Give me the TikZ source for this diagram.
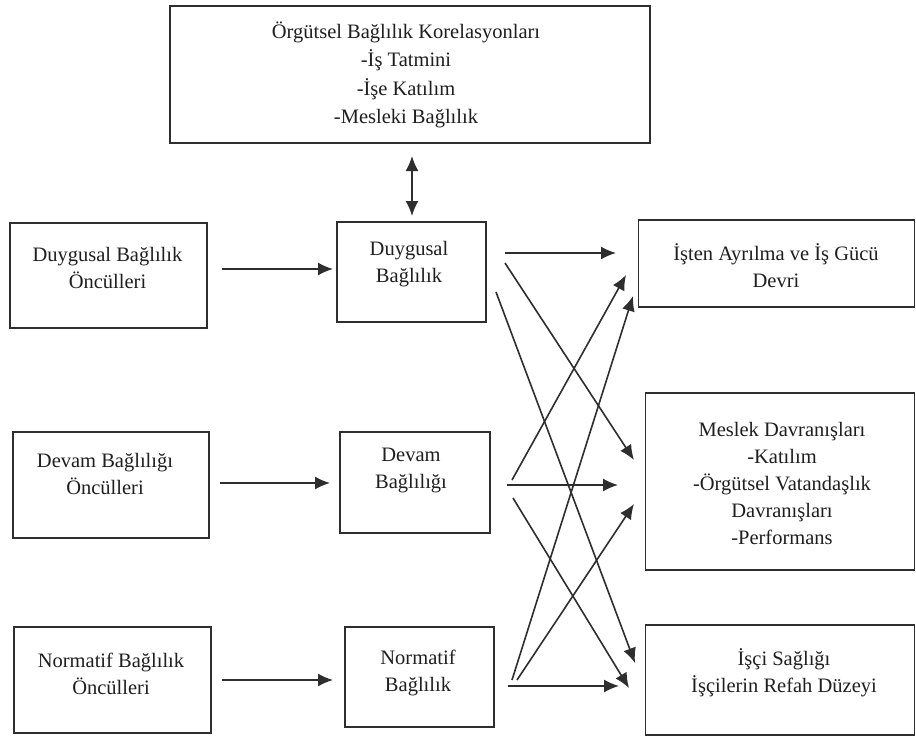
\documentclass[tikz,border=0pt]{standalone}
\usepackage{fontspec}
\setmainfont{Liberation Serif}
\usetikzlibrary{arrows.meta}
\definecolor{ink}{HTML}{1F1F1F}
\definecolor{edge}{HTML}{2E2E2E}
\tikzset{
  box/.style={draw=edge, line width=1.9pt, inner sep=0pt, fill=white},
  txt/.style={align=center, inner sep=0pt, text=ink, font=\fontsize{20.5}{27}\selectfont},
  toptxt/.style={align=center, inner sep=0pt, text=ink, font=\fontsize{20.5}{28.6}\selectfont},
  arr/.style={draw=edge, line width=1.6pt, -{Latex[length=15pt,width=13pt]}},
  darr/.style={draw=edge, line width=1.6pt, {Latex[length=15pt,width=13pt]}-{Latex[length=15pt,width=13pt]}}
}
\begin{document}
\begin{tikzpicture}[x=1pt,y=-1pt]
\useasboundingbox[fill=white] (0,0) rectangle (916,740);
% boxes
\node[box, minimum width=480pt, minimum height=137pt] (top) at (410,74.5) {};
\node[box, minimum width=197pt, minimum height=105pt] (d1) at (108.5,275.5) {};
\node[box, minimum width=149pt, minimum height=100pt] (d2) at (411.5,272) {};
\node[box, minimum width=196pt, minimum height=106pt] (c1) at (111,485) {};
\node[box, minimum width=150pt, minimum height=101pt] (c2) at (415,482.5) {};
\node[box, minimum width=197pt, minimum height=106pt] (n1) at (112.5,680) {};
\node[box, minimum width=149pt, minimum height=100pt] (n2) at (419.5,677) {};
\node[box, minimum width=276pt, minimum height=87pt] (r1) at (776.5,263.5) {};
\node[box, minimum width=269pt, minimum height=177pt] (r2) at (780,481.5) {};
\node[box, minimum width=269pt, minimum height=110pt] (r3) at (780,680) {};
% texts
\node[toptxt] (topt) at (406,75) {Örgütsel Bağlılık Korelasyonları\\-İş Tatmini\\-İşe Katılım\\-Mesleki Bağlılık};
\node[txt] (d1t) at (107.5,267.5) {Duygusal Bağlılık\\Öncülleri};
\node[txt] (d2t) at (409,264) {Duygusal\\Bağlılık};
\node[txt] (c1t) at (105,474) {Devam Bağlılığı\\Öncülleri};
\node[txt] (c2t) at (411,470) {Devam\\Bağlılığı};
\node[txt] (n1t) at (111,673.5) {Normatif Bağlılık\\Öncülleri};
\node[txt] (n2t) at (418,672.5) {Normatif\\Bağlılık};
\node[txt] (r1t) at (776,265.5) {İşten Ayrılma ve İş Gücü\\Devri};
\node[txt] (r2t) at (782,483) {Meslek Davranışları\\-Katılım\\-Örgütsel Vatandaşlık\\Davranışları\\-Performans};
\node[txt] (r3t) at (784,673) {İşçi Sağlığı\\İşçilerin Refah Düzeyi};
% connector end points
\coordinate (u1) at (412,156);
\coordinate (u2) at (412,216);
\coordinate (a1s) at (222,269); \coordinate (a1e) at (333,269);
\coordinate (a2s) at (220,483); \coordinate (a2e) at (330,483);
\coordinate (a3s) at (222,680); \coordinate (a3e) at (333,680);
\coordinate (dh) at (505,253); \coordinate (dm) at (505,263); \coordinate (dw) at (496,292);
\coordinate (ci) at (512,480); \coordinate (ch) at (507,485); \coordinate (cw) at (513,498);
\coordinate (ni) at (512,680); \coordinate (nm) at (517,680); \coordinate (nh) at (508,686);
\coordinate (r1a) at (616,253); \coordinate (r1b) at (626,275); \coordinate (r1c) at (633,296);
\coordinate (r2a) at (634,460); \coordinate (r2b) at (618,485); \coordinate (r2c) at (634,504);
\coordinate (r3a) at (635,663); \coordinate (r3b) at (629,688); \coordinate (r3c) at (619,686);
% connectors
\draw[darr] (u1) -- (u2);
\draw[arr] (a1s) -- (a1e);
\draw[arr] (a2s) -- (a2e);
\draw[arr] (a3s) -- (a3e);
\draw[arr] (dh) -- (r1a);
\draw[arr] (dm) -- (r2a);
\draw[arr] (dw) -- (r3a);
\draw[arr] (ci) -- (r1b);
\draw[arr] (ch) -- (r2b);
\draw[arr] (cw) -- (r3b);
\draw[arr] (ni) -- (r1c);
\draw[arr] (nm) -- (r2c);
\draw[arr] (nh) -- (r3c);
\end{tikzpicture}
\end{document}
